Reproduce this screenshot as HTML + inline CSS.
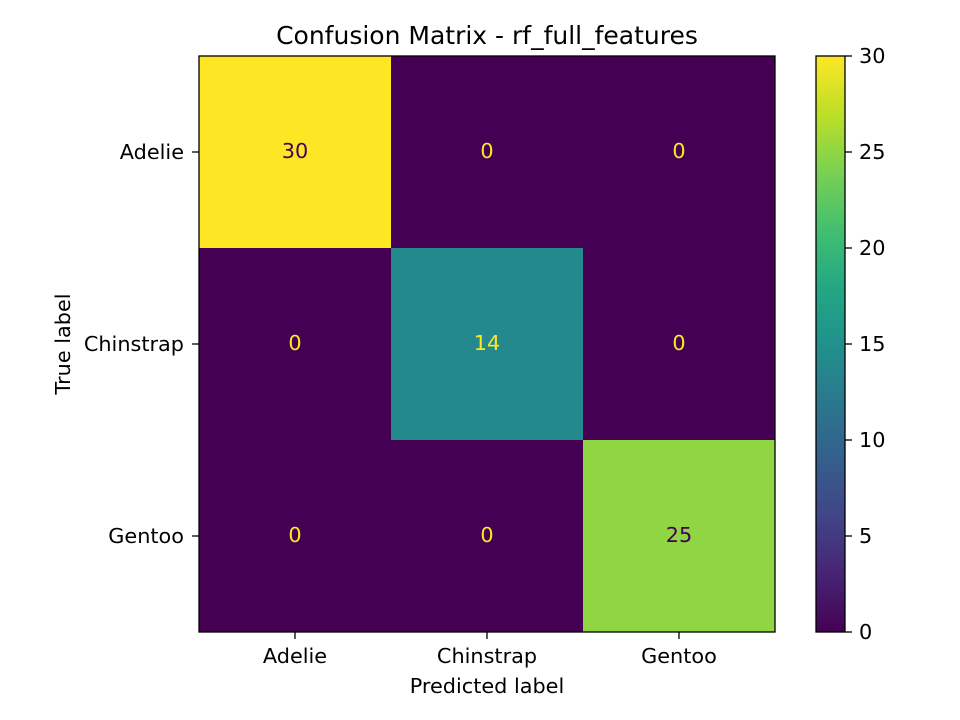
<!DOCTYPE html>
<html><head><meta charset="utf-8"><style>
body{margin:0;background:#fff;}
svg{display:block;font-family:"DejaVu Sans","Liberation Sans",sans-serif;}
</style></head><body>
<svg id="chart" width="960" height="720">
<defs>
<linearGradient id="vir" x1="0" y1="1" x2="0" y2="0">
<stop offset="0" stop-color="#440154"/><stop offset="0.1" stop-color="#482475"/>
<stop offset="0.2" stop-color="#414487"/><stop offset="0.3" stop-color="#355f8d"/>
<stop offset="0.4" stop-color="#2a788e"/><stop offset="0.5" stop-color="#21918c"/>
<stop offset="0.6" stop-color="#22a884"/><stop offset="0.7" stop-color="#44bf70"/>
<stop offset="0.8" stop-color="#7ad151"/><stop offset="0.9" stop-color="#bddf26"/>
<stop offset="1" stop-color="#fde725"/>
</linearGradient>
</defs>
<text x="487" y="44" font-size="25" text-anchor="middle">Confusion Matrix - rf_full_features</text>
<g id="cells"></g>
<rect x="199" y="56" width="576" height="576" fill="none" stroke="#000" stroke-width="1.3"/>
<g id="axes" font-size="20.8"></g>
<text x="487" y="693" font-size="20.8" text-anchor="middle">Predicted label</text>
<text transform="translate(70,344) rotate(-90)" font-size="20.8" text-anchor="middle">True label</text>
<rect x="816" y="56" width="29" height="576" fill="url(#vir)" stroke="#000" stroke-width="1.3"/>
<g id="cbticks" font-size="20.8"></g>
</svg>
<script>
const labels = ["Adelie","Chinstrap","Gentoo"];
const matrix = [[30,0,0],[0,14,0],[0,0,25]];
const cbTicks = [0,5,10,15,20,25,30];
const vmin = 0, vmax = 30;
const stops = ["#440154","#482475","#414487","#355f8d","#2a788e","#21918c","#22a884","#44bf70","#7ad151","#bddf26","#fde725"];
function hex(h){return [1,3,5].map(i=>parseInt(h.substr(i,2),16));}
function viridis(t){t=Math.max(0,Math.min(1,t));const p=t*10,i=Math.min(9,Math.floor(p)),f=p-i;const a=hex(stops[i]),b=hex(stops[i+1]);return "rgb("+a.map((v,k)=>Math.round(v+(b[k]-v)*f)).join(",")+")";}
const X0=199,Y0=56,S=576,n=labels.length,cs=S/n;
const xs=i=>X0+(i+0.5)*cs, ys=i=>Y0+(i+0.5)*cs;
const NS="http://www.w3.org/2000/svg";
function mk(tag,attrs,parent){const e=document.createElementNS(NS,tag);for(const k in attrs)e.setAttribute(k,attrs[k]);parent.appendChild(e);return e;}
const cells=document.getElementById("cells");
matrix.forEach((row,r)=>row.forEach((v,c)=>{
  const t=(v-vmin)/(vmax-vmin);
  const rc=mk("rect",{x:X0+c*cs,y:Y0+r*cs,width:cs,height:cs,fill:viridis(t)},cells);
  
  
  const tx=mk("text",{x:xs(c),y:ys(r)+6,"font-size":"20.8","text-anchor":"middle",fill:t<0.5?"#fde725":"#440154"},cells);
  tx.textContent=v;
  
  
}));
const ax=document.getElementById("axes");
labels.forEach((l,i)=>{
  mk("line",{x1:xs(i),x2:xs(i),y1:632,y2:639,stroke:"#000","stroke-width":1.3},ax);
  const t=mk("text",{x:xs(i),y:663,"text-anchor":"middle"},ax);t.textContent=l;
  
  
  mk("line",{x1:192,x2:199,y1:ys(i),y2:ys(i),stroke:"#000","stroke-width":1.3},ax);
  const u=mk("text",{x:184,y:ys(i)+7,"text-anchor":"end"},ax);u.textContent=l;
  
  
});
const cb=document.getElementById("cbticks");
cbTicks.forEach(v=>{
  const y=632-(v-vmin)/(vmax-vmin)*576;
  mk("line",{x1:845,x2:852,y1:y,y2:y,stroke:"#000","stroke-width":1.3},cb);
  const t=mk("text",{x:859,y:y+7},cb);t.textContent=v;
  
  
});
</script>
</body></html>
